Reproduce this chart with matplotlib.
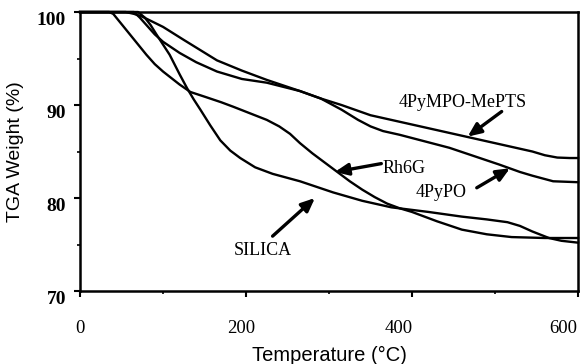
import numpy as np
import matplotlib.pyplot as plt
import matplotlib.transforms as mtransforms

# TGA curves (temperature in C, weight in %)
rh6g_T = [0, 35, 40, 50, 60, 70, 80, 90, 100, 110, 120, 133, 150, 170, 185, 205, 225, 240, 253, 265, 280, 295, 310, 325, 340, 355, 370, 385, 400, 430, 460, 490, 520, 560, 600]
rh6g_w = [100, 100, 99.8, 98.7, 97.6, 96.5, 95.4, 94.4, 93.6, 92.9, 92.2, 91.4, 90.9, 90.3, 89.8, 89.1, 88.4, 87.7, 86.9, 85.9, 84.8, 83.8, 82.8, 81.8, 80.9, 80.1, 79.4, 78.9, 78.5, 77.5, 76.6, 76.1, 75.8, 75.7, 75.7]

silica_T = [0, 70, 78, 85, 92, 100, 108, 120, 129, 137, 145, 157, 169, 181, 193, 211, 232, 265, 305, 340, 375, 420, 460, 490, 515, 530, 545, 565, 580, 600]
silica_w = [100, 100, 99.4, 98.6, 97.6, 96.5, 95.4, 93.3, 91.8, 90.6, 89.5, 87.8, 86.2, 85.1, 84.3, 83.3, 82.6, 81.8, 80.6, 79.7, 79.0, 78.5, 78.0, 77.7, 77.4, 77.0, 76.4, 75.7, 75.4, 75.2]

pypo_T = [0, 65, 72, 80, 90, 100, 120, 140, 165, 195, 225, 265, 290, 315, 335, 350, 365, 385, 415, 445, 475, 505, 530, 545, 570, 600]
pypo_w = [100, 100, 99.4, 98.6, 97.6, 96.8, 95.6, 94.6, 93.6, 92.8, 92.4, 91.5, 90.7, 89.5, 88.4, 87.7, 87.2, 86.8, 86.1, 85.4, 84.5, 83.6, 82.8, 82.4, 81.8, 81.7]

pympo_T = [0, 55, 65, 75, 100, 125, 145, 165, 195, 225, 265, 290, 315, 350, 400, 445, 475, 505, 545, 560, 575, 590, 600]
pympo_w = [100, 100, 99.8, 99.5, 98.4, 97.0, 95.9, 94.8, 93.7, 92.7, 91.5, 90.7, 90.0, 88.9, 87.9, 87.0, 86.4, 85.8, 85.0, 84.6, 84.35, 84.3, 84.3]

# labels: (text, text pos, arrow tail, arrow tip)
labels = [
    ("4PyMPO-MePTS", (461, 90.3), (508, 89.3), (467, 86.6)),
    ("Rh6G", (364, 83.2), (363, 83.7), (307, 82.8)),
    ("4PyPO", (435, 80.6), (478, 81.1), (518, 83.2)),
    ("SILICA", (220, 74.4), (232, 75.9), (283, 80.0)),
]
label_ha = ['center', 'left', 'center', 'center']

xticks = [0, 200, 400, 600]
xticks_minor = [100, 300, 500]
yticks = [70, 80, 90, 100]
yticks_minor = [75, 85, 95]
# small left shift of the x tick labels, as on the scan (pixels)
xlab_shift = [0, -5, -13, -15]

fig = plt.figure(figsize=(5.8, 3.64), dpi=100)
ax = fig.add_axes([0.138, 0.2005, 0.8586, 0.7665])

for T, w in [(rh6g_T, rh6g_w), (silica_T, silica_w), (pypo_T, pypo_w), (pympo_T, pympo_w)]:
    ax.plot(T, w, color='black', lw=1.7, solid_joinstyle='round', clip_on=False)

for (txt, pos, tail, tip), ha in zip(labels, label_ha):
    ax.text(pos[0], pos[1], txt, ha=ha, va='center', fontsize=13,
            family='Liberation Serif')
    ax.annotate("", xy=tip, xytext=tail,
                arrowprops=dict(arrowstyle='-|>,head_length=0.8,head_width=0.35',
                                lw=2.4, color='black', shrinkA=0, shrinkB=0))

ax.set_xlim(0, 600)
ax.set_ylim(70, 100)
ax.set_xticks(xticks)
ax.set_xticks(xticks_minor, minor=True)
ax.set_yticks(yticks)
ax.set_yticks(yticks_minor, minor=True)
ax.set_xticklabels([str(t) for t in xticks], family='Liberation Serif', fontsize=13.5)
ax.set_yticklabels([str(t) for t in yticks], family='Liberation Serif', fontsize=14,
                   fontweight='bold')

for s in ax.spines.values():
    s.set_linewidth(1.8)

ax.tick_params(axis='both', which='major', direction='out', length=4, width=1.5)
ax.tick_params(axis='both', which='minor', direction='out', length=2.5, width=1.2)
ax.tick_params(axis='x', pad=17)
ax.tick_params(axis='y', pad=6)

for lab, dx in zip(ax.get_xticklabels(), xlab_shift):
    lab.set_transform(lab.get_transform() + mtransforms.ScaledTranslation(dx/100, 0, fig.dpi_scale_trans))
for lab in ax.get_yticklabels():
    lab.set_transform(lab.get_transform() + mtransforms.ScaledTranslation(0, -6/100, fig.dpi_scale_trans))

ax.set_xlabel("Temperature (°C)", family='Liberation Sans', fontsize=14.5, labelpad=6)
ax.set_ylabel("TGA Weight (%)", family='Liberation Sans', fontsize=14, labelpad=9)

fig.savefig("out.png", dpi=100)
plt.close(fig)
